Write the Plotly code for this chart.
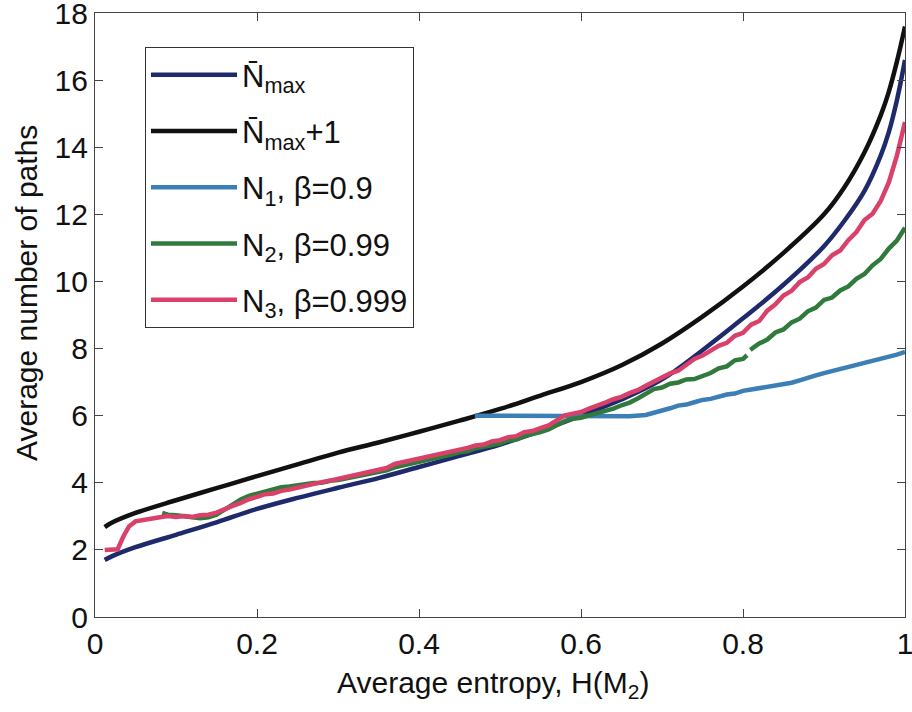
import plotly.graph_objects as go

# ---------------- data ----------------
x_smooth = [0.012, 0.02, 0.05, 0.1, 0.15, 0.2, 0.25, 0.3, 0.35, 0.4, 0.45, 0.5,
            0.55, 0.6, 0.65, 0.7, 0.75, 0.8, 0.85, 0.9, 0.925, 0.95, 0.97,
            0.98, 0.99, 1.0]
n_max = [1.70, 1.80, 2.08, 2.45, 2.82, 3.22, 3.55, 3.85, 4.14, 4.47, 4.80, 5.14,
         5.55, 6.00, 6.48, 7.08, 7.95, 8.90, 9.90, 11.05, 11.8, 12.7, 13.75,
         14.45, 15.4, 16.6]
n_max_plus1 = [2.68, 2.80, 3.10, 3.48, 3.84, 4.20, 4.55, 4.90, 5.20, 5.52, 5.85, 6.20,
               6.60, 7.00, 7.50, 8.15, 8.95, 9.85, 10.85, 12.0, 12.8, 13.85, 14.95,
               15.65, 16.55, 17.6]

x_n1 = [0.469, 0.50, 0.55, 0.60, 0.64, 0.66, 0.68, 0.69, 0.70, 0.71, 0.72, 0.73,
        0.74, 0.75, 0.76, 0.77, 0.78, 0.79, 0.80, 0.81, 0.82, 0.83, 0.84, 0.85,
        0.86, 0.87, 0.88, 0.89, 0.90, 0.91, 0.92, 0.93, 0.94, 0.95, 0.96, 0.97,
        0.98, 0.99, 1.0]
n1 = [6.00, 6.00, 6.00, 5.99, 5.98, 5.98, 6.02, 6.08, 6.15, 6.22, 6.30, 6.33,
      6.40, 6.47, 6.50, 6.58, 6.63, 6.66, 6.74, 6.78, 6.82, 6.85, 6.90, 6.93,
      6.98, 7.05, 7.11, 7.20, 7.27, 7.33, 7.37, 7.44, 7.49, 7.56, 7.61, 7.68,
      7.74, 7.82, 7.90]

x_n2 = [0.083, 0.09, 0.10, 0.11, 0.12, 0.13, 0.14, 0.15, 0.16, 0.17, 0.18, 0.19,
        0.20, 0.21, 0.22, 0.23, 0.24, 0.25, 0.26, 0.27, 0.28, 0.29, 0.30, 0.31,
        0.32, 0.33, 0.34, 0.35, 0.36, 0.37, 0.38, 0.39, 0.40, 0.41, 0.42, 0.43,
        0.44, 0.45, 0.46, 0.47, 0.48, 0.49, 0.50, 0.51, 0.52, 0.53, 0.54, 0.55,
        0.56, 0.57, 0.58, 0.59, 0.60, 0.61, 0.62, 0.63, 0.64, 0.65, 0.66, 0.67,
        0.68, 0.69, 0.70, 0.71, 0.72, 0.73, 0.74, 0.75, 0.76, 0.77, 0.78, 0.79,
        0.80, 0.805, 0.807, 0.809, 0.82, 0.83, 0.84, 0.85, 0.86, 0.87, 0.88, 0.89,
        0.90, 0.91, 0.92, 0.93, 0.94, 0.95, 0.96, 0.97, 0.98, 0.99, 1.0]
n2 = [3.10, 3.05, 3.03, 2.99, 2.97, 2.94, 2.97, 3.05, 3.20, 3.36, 3.50, 3.61,
      3.68, 3.76, 3.81, 3.87, 3.89, 3.93, 3.95, 3.99, 4.00, 4.06, 4.08, 4.13,
      4.15, 4.21, 4.25, 4.31, 4.37, 4.46, 4.51, 4.59, 4.61, 4.69, 4.71, 4.79,
      4.84, 4.91, 4.94, 5.03, 5.07, 5.13, 5.17, 5.26, 5.29, 5.39, 5.44, 5.51,
      5.59, 5.71, 5.84, 5.91, 5.94, 6.01, 6.07, 6.16, 6.21, 6.31, 6.39, 6.51,
      6.64, 6.79, 6.84, 6.95, 6.99, 7.08, 7.09, 7.18, 7.27, 7.41, 7.47, 7.65,
      7.69, 7.80, None, 7.96, 8.15, 8.27, 8.48, 8.57, 8.78, 8.89, 9.11, 9.22,
      9.45, 9.52, 9.73, 9.85, 10.08, 10.22, 10.48, 10.67, 10.98, 11.22, 11.60]

x_n3 = [0.012, 0.02, 0.028, 0.035, 0.042, 0.05, 0.06, 0.07, 0.08, 0.09, 0.10,
        0.11, 0.12, 0.13, 0.14, 0.15, 0.16, 0.17, 0.18, 0.19, 0.20, 0.21, 0.22,
        0.23, 0.24, 0.25, 0.26, 0.27, 0.28, 0.29, 0.30, 0.31, 0.32, 0.33, 0.34,
        0.35, 0.36, 0.37, 0.38, 0.39, 0.40, 0.41, 0.42, 0.43, 0.44, 0.45, 0.46,
        0.47, 0.48, 0.49, 0.50, 0.51, 0.52, 0.53, 0.54, 0.55, 0.56, 0.57, 0.58,
        0.59, 0.60, 0.61, 0.62, 0.63, 0.64, 0.65, 0.66, 0.67, 0.68, 0.69, 0.70,
        0.71, 0.72, 0.73, 0.74, 0.75, 0.76, 0.77, 0.78, 0.79, 0.80, 0.81, 0.82,
        0.83, 0.84, 0.85, 0.86, 0.87, 0.88, 0.89, 0.90, 0.91, 0.92, 0.93, 0.94,
        0.95, 0.96, 0.97, 0.98, 0.99, 1.0]
n3 = [2.00, 2.00, 2.02, 2.40, 2.70, 2.85, 2.90, 2.95, 2.97, 3.01, 2.98,
      3.01, 2.98, 3.03, 3.05, 3.11, 3.22, 3.31, 3.40, 3.51, 3.58, 3.66, 3.68,
      3.76, 3.80, 3.86, 3.91, 3.96, 4.02, 4.06, 4.11, 4.16, 4.21, 4.26, 4.32,
      4.39, 4.44, 4.56, 4.61, 4.69, 4.71, 4.79, 4.81, 4.87, 4.94, 4.99, 5.04,
      5.11, 5.14, 5.23, 5.27, 5.36, 5.39, 5.51, 5.54, 5.63, 5.71, 5.86, 6.01,
      6.06, 6.11, 6.21, 6.29, 6.39, 6.49, 6.56, 6.67, 6.76, 6.89, 7.01, 7.11,
      7.26, 7.34, 7.53, 7.69, 7.79, 7.94, 8.08, 8.17, 8.38, 8.47, 8.71, 8.82,
      9.13, 9.32, 9.58, 9.72, 9.98, 10.12, 10.38, 10.52, 10.78, 10.92, 11.23, 11.47,
      11.83, 12.02, 12.40, 12.95, 13.75, 14.75]

x_ticks = [0, 0.2, 0.4, 0.6, 0.8, 1]
x_tick_labels = ["0", "0.2", "0.4", "0.6", "0.8", "1"]
y_ticks = [0, 2, 4, 6, 8, 10, 12, 14, 16, 18]
y_tick_labels = ["0", "2", "4", "6", "8", "10", "12", "14", "16", "18"]

names = ["N\u0304<sub>max</sub>", "N\u0304<sub>max</sub>+1",
         "N<sub>1</sub>, \u03b2=0.9", "N<sub>2</sub>, \u03b2=0.99",
         "N<sub>3</sub>, \u03b2=0.999"]
colors = ["#1f2a6c", "#111111", "#3b7fb6", "#2f7a3c", "#d9416b"]

FONT = "Liberation Sans, Arial, Helvetica, sans-serif"
FS = 30

fig = go.Figure()
series = [(x_smooth, n_max, "spline"), (x_smooth, n_max_plus1, "spline"),
          (x_n1, n1, "linear"), (x_n2, n2, "linear"), (x_n3, n3, "linear")]
for i, (xs, ys, shp) in enumerate(series):
    fig.add_trace(go.Scatter(
        x=xs, y=ys, mode="lines", name=names[i], legendgroup=f"g{i}",
        line=dict(color=colors[i], width=4.5, shape=shp), connectgaps=False))

axis_common = dict(showline=True, linecolor="#444", linewidth=1.2, mirror="ticks",
                   ticks="inside", ticklen=8, tickwidth=1, tickcolor="#444",
                   showgrid=False, zeroline=False, ticklabeloverflow="allow",
                   automargin=False,
                   tickfont=dict(family=FONT, size=FS, color="#111"))

fig.update_layout(
    width=912, height=712,
    margin=dict(l=95, r=7, t=13, b=95, autoexpand=False),
    paper_bgcolor="white", plot_bgcolor="white",
    font=dict(family=FONT, size=FS, color="#111"),
    xaxis=dict(range=[0, 1], tickvals=x_ticks, ticktext=x_tick_labels, **axis_common),
    yaxis=dict(range=[0, 18], tickvals=y_ticks, ticktext=y_tick_labels, **axis_common),
    legend=dict(x=(145 - 95) / 810, y=1 - (47 - 13) / 604, xanchor="left", yanchor="top",
                bgcolor="white", bordercolor="#333", borderwidth=1,
                font=dict(family=FONT, size=31, color="#111"),
                itemwidth=86, tracegroupgap=13, traceorder="grouped"),
    showlegend=True,
)

fig.add_annotation(text="Average entropy, H(M<sub>2</sub>)", xref="paper", yref="paper",
                   x=(493 - 95) / 810, y=1 - (684 - 13) / 604, xanchor="center",
                   yanchor="middle", showarrow=False,
                   font=dict(family=FONT, size=FS, color="#111"))
fig.add_annotation(text="Average number of paths", xref="paper", yref="paper",
                   x=(27 - 95) / 810, y=1 - (293 - 13) / 604, xanchor="center",
                   yanchor="middle", textangle=-90, showarrow=False,
                   font=dict(family=FONT, size=FS, color="#111"))

fig.write_html("out.html")
